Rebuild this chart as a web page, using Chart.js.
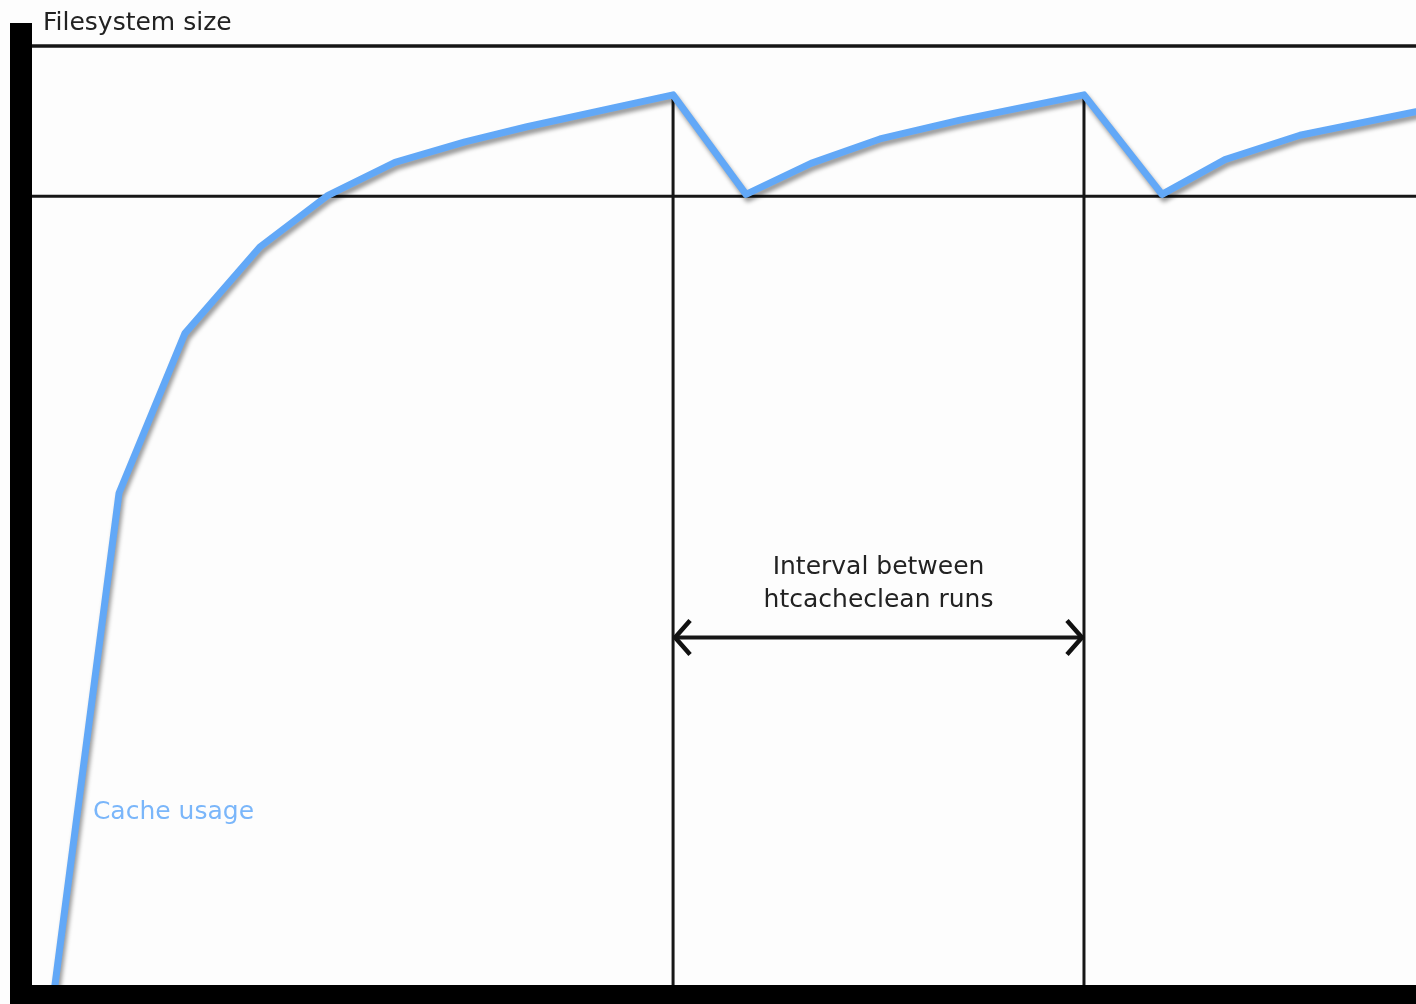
<!DOCTYPE html>
<html>
<head>
<meta charset="utf-8">
<title>Cache usage</title>
<script src="https://cdn.jsdelivr.net/npm/chart.js@4.4.1/dist/chart.umd.min.js"></script>
<style>
  html, body { margin: 0; padding: 0; background: #fdfdfd; }
  #grafico { display: block; }
</style>
</head>
<body>
<canvas id="grafico" width="1416" height="1004"></canvas>
<script>
// time axis 0..100, size axis 0..100 (100 = filesystem size)
const timeX = [1.66, 6.29, 11.05, 16.47, 21.39, 26.23, 31.29, 35.77, 46.32, 51.59, 56.29, 61.27, 67.05, 76.01, 81.65, 86.2, 91.62, 100];
const cacheUsage = [0, 52.4, 69.4, 78.6, 84.1, 87.6, 89.8, 91.4, 94.8, 84.2, 87.5, 90.1, 92.1, 94.8, 84.2, 87.9, 90.5, 93.0];
const fsSizeLevel = 100;
const cleanLimit = 84;
const cleanRuns = [46.32, 76.01];
const runPeak = 94.8;
const intervalLevel = 37;
const labelFs = 'Filesystem size';
const labelCache = 'Cache usage';
const labelInterval = ['Interval between', 'htcacheclean runs'];

document.addEventListener('DOMContentLoaded', () => {
    const ctx = document.getElementById('grafico').getContext('2d');

    const lineaNegra = (puntos, ancho) => ({
        data: puntos,
        borderColor: '#161616',
        borderWidth: ancho,
        pointRadius: 0,
        tension: 0,
        clip: false
    });

    const datasets = [{
        label: labelCache,
        data: timeX.map((x, i) => ({ x: x, y: cacheUsage[i] })),
        borderColor: '#62a8f7',
        borderWidth: 7,
        borderJoinStyle: 'round',
        borderCapStyle: 'round',
        pointRadius: 0,
        tension: 0,
        clip: false
    }];
    datasets.push(lineaNegra([{ x: 0, y: fsSizeLevel }, { x: 100, y: fsSizeLevel }], 3.5));
    datasets.push(lineaNegra([{ x: 0, y: cleanLimit }, { x: 100, y: cleanLimit }], 3));
    cleanRuns.forEach(r => {
        datasets.push(lineaNegra([{ x: r, y: 0 }, { x: r, y: runPeak }], 3));
    });
    datasets.push(lineaNegra([{ x: cleanRuns[0], y: intervalLevel }, { x: cleanRuns[1], y: intervalLevel }], 4));

    // shadow under the blue line
    const sombra = {
        id: 'sombra',
        beforeDatasetDraw(chart, args) {
            if (args.index !== 0) return;
            const c = chart.ctx;
            c.save();
            c.shadowColor = 'rgba(0,0,0,0.4)';
            c.shadowOffsetX = 2;
            c.shadowOffsetY = 4;
            c.shadowBlur = 4;
        },
        afterDatasetDraw(chart, args) {
            if (args.index !== 0) return;
            chart.ctx.restore();
        }
    };

    const adornos = {
        id: 'adornos',
        afterDraw(chart) {
            const c = chart.ctx;
            const a = chart.chartArea;
            const sx = chart.scales.x;
            const sy = chart.scales.y;
            c.save();
            // thick axes
            c.fillStyle = '#000';
            c.fillRect(a.left - 22, a.top - 23, 22, chart.height - a.top + 23);
            c.fillRect(a.left - 22, a.bottom, a.right - a.left + 22, chart.height - a.bottom);

            // arrow heads
            const y = sy.getPixelForValue(intervalLevel);
            const x0 = sx.getPixelForValue(cleanRuns[0]);
            const x1 = sx.getPixelForValue(cleanRuns[1]);
            c.strokeStyle = '#111';
            c.lineWidth = 4.5;
            c.lineJoin = 'miter';
            c.beginPath();
            c.moveTo(x0 + 17, y - 17); c.lineTo(x0 + 2, y); c.lineTo(x0 + 17, y + 17);
            c.moveTo(x1 - 17, y - 17); c.lineTo(x1 - 2, y); c.lineTo(x1 - 17, y + 17);
            c.stroke();

            // texts
            c.textBaseline = 'middle';
            c.textAlign = 'left';
            c.fillStyle = '#222';
            c.font = '25px "DejaVu Sans"';
            c.fillText(labelFs, a.left + 11, a.top - 23);

            c.fillStyle = '#7ab6fa';
            c.font = '25px "DejaVu Sans"';
            c.fillText(labelCache, sx.getPixelForValue(4.4), sy.getPixelForValue(18.4));

            c.fillStyle = '#222';
            c.font = '25px "DejaVu Sans"';
            c.textAlign = 'center';
            const xm = (x0 + x1) / 2;
            c.fillText(labelInterval[0], xm, y - 70);
            c.fillText(labelInterval[1], xm, y - 37);
            c.restore();
        }
    };

    new Chart(ctx, {
        type: 'line',
        data: { datasets: datasets },
        options: {
            responsive: false,
            animation: false,
            devicePixelRatio: 1,
            layout: { padding: { left: 32, top: 46, right: 0, bottom: 19 } },
            plugins: { legend: { display: false }, tooltip: { enabled: false } },
            scales: {
                x: { type: 'linear', min: 0, max: 100, display: false },
                y: { min: 0, max: 100, display: false }
            }
        },
        plugins: [sombra, adornos]
    });
});
</script>
</body>
</html>
